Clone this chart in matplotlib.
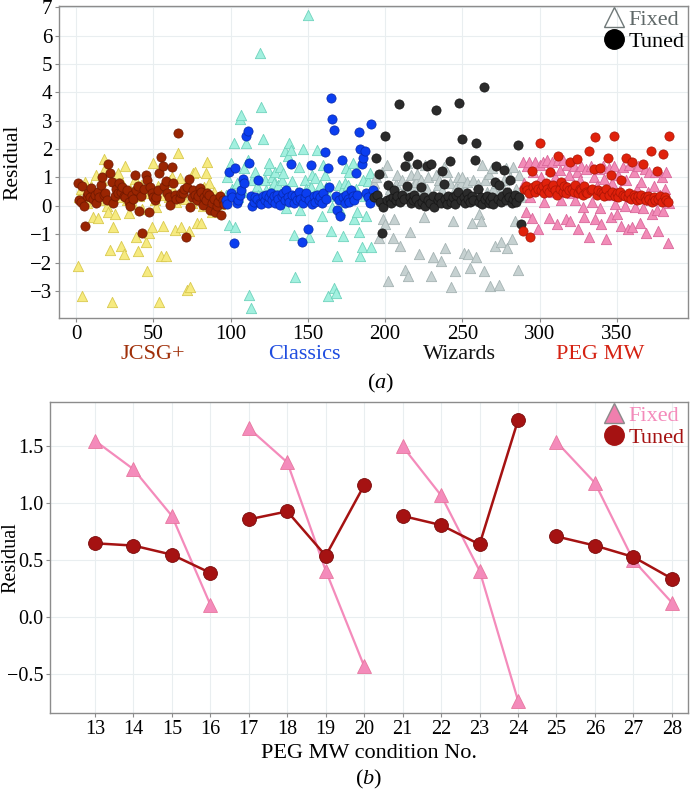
"""
Residuals of fixed vs tuned models per screen condition, plus PEG MW detail.
"""

import numpy as np
import matplotlib
matplotlib.use("Agg")
import matplotlib.pyplot as plt
from matplotlib.lines import Line2D

plt.rcParams["font.family"] = ["Liberation Serif", "DejaVu Serif"]
plt.rcParams["mathtext.fontset"] = "custom"
plt.rcParams["mathtext.rm"] = "Liberation Serif"
plt.rcParams["mathtext.it"] = "Liberation Serif:italic"

# ---- panel (a): residual per condition, four screens of 96 conditions ----
SCREENS = ["JCSG+", "Classics", "Wizards", "PEG MW"]
SCREEN_START = [1, 97, 193, 289]

JCSG_FIXED = [
    -2.13, 0.30, 0.60, -3.16, 0.20, 0.85, 0.10, 0.50, 0.25, 0.70, -0.40, 0.30,
    1.09, -0.43, 0.20, 0.60, 0.90, 1.64, 1.34, 0.00, -0.20, -1.57, -3.37, -0.73,
    -0.30, 0.50, 1.15, 0.30, -1.43, 0.80, -1.70, 1.41, 0.20, -0.24, 0.60, 0.10,
    0.07, 0.95, -1.08, -1.60, 0.35, 0.75, -0.10, 0.45, -1.29, -2.31, -0.95, 0.60,
    -0.73, 1.50, 0.20, -0.05, 0.70, -3.40, -1.78, -0.70, 0.40, -1.75, 0.85, 0.30,
    0.90, 1.00, 0.55, -0.85, 0.15, 1.86, 0.97, -0.73, 0.50, 0.25, 0.70, -2.96,
    -0.90, -2.86, 0.10, 1.15, 1.21, -0.60, 0.45, 0.20, -0.61, 0.00, 0.65, 1.15,
    1.53, 0.80, 0.35, -0.20, 0.50, 0.15, -0.10, 0.30, 0.05, 0.40, 0.20, 0.10,
]
JCSG_TUNED = [
    0.82, 0.21, 0.15, 0.70, 0.01, -0.70, 0.35, 0.45, 0.30, 0.62, 0.25, 0.40,
    0.10, 0.50, 0.30, 0.72, 1.03, 0.40, 0.45, 0.20, 1.48, 1.15, 0.85, 0.10,
    0.35, 0.60, 0.45, 0.82, 0.50, 0.65, 0.35, 0.30, 0.55, 0.15, 0.00, 0.40,
    0.25, 1.09, 0.55, 0.70, -0.18, 0.35, -0.94, 0.60, 1.09, 0.90, -0.20, 0.65,
    0.45, 0.30, 0.21, 0.30, 0.55, 1.15, 1.71, 1.41, 0.70, 0.89, 0.45, 0.30,
    0.04, 1.36, 0.80, 0.40, 0.25, 2.56, 0.27, 0.45, 0.45, 0.60, -1.10, 0.68,
    0.95, -0.05, 0.30, 0.55, 0.40, 0.20, 0.35, 0.62, 0.50, 0.04, 0.30, 0.20,
    0.45, 0.40, -0.14, 0.10, 0.25, -0.20, 0.00, 0.15, 0.33, -0.32, 0.20, 0.05,
]
CLASSICS_FIXED = [
    0.40, 1.00, -0.67, 1.50, 0.60, 2.20, -0.75, 0.80, 0.30, 3.05, 3.20, 0.50,
    1.35, 2.20, 1.60, -3.13, -3.60, 0.90, 0.20, 1.20, 0.70, 0.40, 5.40, 3.47,
    2.35, 0.90, 0.55, 1.25, 1.50, 0.60, 1.00, 0.80, 1.20, 0.40, 0.74, 1.38,
    0.90, 1.15, 1.95, -0.08, 1.76, 2.23, 1.97, 0.86, -1.03, -2.49, 0.50, 1.38,
    -0.16, 0.30, 2.00, 0.92, 0.60, 6.72, -1.09, 0.68, 1.08, 0.40, 0.97, 1.97,
    0.20, 0.74, -0.36, 1.45, 1.08, 0.68, -3.19, 0.35, -0.87, -0.04, -2.90, -3.08,
    -1.77, 0.74, -0.13, 0.55, -1.05, 0.80, 1.33, 0.74, 1.20, 0.30, 1.50, -0.47,
    0.60, -0.22, -0.93, -1.77, -1.44, 0.90, 0.35, -0.37, 0.86, 1.15, -1.44, 0.45,
]
CLASSICS_TUNED = [
    0.20, 0.05, 1.20, 0.45, 0.30, -1.31, 1.35, 0.10, 0.20, 0.40, 0.55, 0.93,
    0.79, 2.45, 2.62, 1.52, 0.35, -0.02, 0.15, 0.30, 0.25, 0.91, 0.10, 0.05,
    0.33, 0.20, 0.40, 0.10, 0.30, 0.45, 0.21, 0.35, 0.10, 0.40, 0.25, 0.04,
    0.33, 0.45, 0.20, 0.55, 0.30, 0.15, 1.47, 0.40, 0.10, 0.35, 0.20, 0.50,
    0.25, -1.29, 0.10, 0.30, 0.45, -0.82, 0.21, 1.43, 0.05, 0.33, 0.15, 0.40,
    0.20, 0.30, 0.10, 0.45, 1.90, 0.25, 1.33, 0.66, 3.79, 3.05, 2.68, 0.35,
    -0.13, 0.20, -0.37, 1.60, 0.30, 0.10, 0.40, 0.25, 0.15, 0.56, 0.33, 0.20,
    1.17, 0.40, 2.60, 2.02, 1.47, 1.70, 1.93, 0.45, 0.30, 0.10, 2.88, 0.55,
]
WIZARDS_FIXED = [
    0.80, 1.00, 0.50, -1.12, 0.30, 1.20, -0.48, -0.65, 1.43, -2.66, 0.60, 0.20,
    -1.12, -0.45, 0.78, 1.10, 0.40, -1.41, 0.90, 0.55, -2.25, 1.50, -2.46, -0.92,
    1.08, 0.70, 0.30, 0.84, 1.14, -1.71, 0.90, 0.50, -0.41, 1.45, 0.60, 1.00,
    0.20, -2.46, -1.79, 0.40, 1.08, 0.72, 0.90, -1.95, 0.55, 1.38, -1.48, 1.20,
    0.30, 0.80, -2.87, -0.53, -2.31, 0.67, 1.00, 0.45, 0.80, 1.02, -1.66, 0.60,
    0.84, -1.71, -2.20, -0.60, 0.90, 0.20, -1.79, 0.78, -0.29, -0.53, 1.43, -2.31,
    0.90, 0.50, 1.14, -2.83, 1.32, 0.60, -1.41, 0.80, 0.40, -2.80, -1.29, 0.70,
    0.90, 1.32, -1.48, 0.50, 1.00, -1.16, 1.38, -0.53, 0.60, -2.25, 1.08, 0.30,
]
WIZARDS_TUNED = [
    0.30, 1.70, 0.37, 1.13, 0.15, -0.94, -0.05, 2.46, 0.20, 0.72, 0.25, 0.10,
    0.30, 0.57, 0.20, 0.35, 3.59, 0.15, 0.40, 0.25, 1.39, 0.69, 1.74, 0.30,
    0.10, 0.20, 0.40, 0.25, 1.46, 0.05, 0.67, 0.15, 0.30, 0.00, 1.39, 0.20,
    0.10, 1.49, 0.35, -0.03, 3.36, 0.20, 0.30, 0.10, 1.22, 0.77, 0.25, 0.05,
    0.35, 1.58, 0.15, 0.30, 0.07, 0.40, 0.49, 3.64, 0.20, 2.34, 0.30, 0.10,
    0.45, 0.25, 0.12, 0.35, 0.20, 1.63, 2.22, 0.61, 0.15, 0.30, 0.05, 4.17,
    0.25, 0.35, 0.10, 0.20, 0.30, 0.07, 0.84, 1.41, 0.25, 0.72, 0.15, 0.35,
    1.28, 0.20, 0.49, 0.30, 0.90, 0.10, 0.25, 0.40, 0.15, 2.15, 0.30, -0.63,
]
PEG_FIXED = [
    1.56, 0.80, -0.20, 1.40, 1.56, 0.30, -0.43, 1.20, 1.56, 0.60, -0.82, 1.45,
    1.00, 1.56, 0.12, 0.70, 1.62, -0.43, 1.30, 1.56, 0.50, 1.00, -0.64, 1.60,
    1.25, 0.20, 1.62, 0.80, -0.47, 1.45, 1.10, -0.55, 0.45, 1.40, 0.19, 1.20,
    -0.81, 0.90, 1.40, -0.04, -0.40, 1.30, 0.60, -1.08, 1.40, 0.12, 1.00, -0.45,
    0.70, 1.30, -0.08, -0.64, 1.40, 0.95, -1.17, 0.40, 1.35, -0.40, 0.80, 1.40,
    0.07, -0.30, 1.10, 0.55, -0.70, 1.38, 0.01, 0.90, -0.80, 1.45, 0.30, -0.75,
    1.20, -0.04, 0.60, 1.40, -0.60, 0.85, -0.09, 1.30, -0.96, 0.50, 1.20, 0.20,
    -0.30, 0.70, 1.20, -0.14, -0.87, 0.40, 1.00, -0.19, 0.60, 1.20, -1.31, 0.10,
]
PEG_TUNED = [
    -0.87, 0.60, 0.70, 0.55, 0.45, -1.09, 1.22, 0.65, 0.50, 0.75, 0.60, 2.23,
    0.55, 0.70, 0.45, 0.80, 0.60, 0.50, 1.20, 0.65, 0.75, 0.55, 0.40, 1.74,
    0.60, 0.85, 0.50, 0.70, 0.45, 0.65, 0.55, 1.55, 0.60, 0.50, 0.75, 1.65,
    0.45, 0.60, 0.55, 0.40, 0.70, 0.50, 0.45, 1.95, 0.55, 0.60, 1.29, 2.41,
    0.40, 0.55, 1.35, 0.50, 0.45, 0.35, 0.60, 1.67, 0.40, 1.10, 0.50, 2.46,
    0.35, 0.45, 0.30, 0.50, 0.92, 0.40, 0.35, 1.70, 0.30, 0.45, 0.25, 1.55,
    0.40, 0.30, 0.20, 0.35, 0.25, 0.40, 1.46, 0.30, 0.20, 0.35, 0.25, 1.95,
    0.15, 0.30, 0.20, 1.22, 0.25, 0.35, 0.15, 1.82, 0.30, 0.20, 0.12, 2.46,
]

FIXED_A = [JCSG_FIXED, CLASSICS_FIXED, WIZARDS_FIXED, PEG_FIXED]
TUNED_A = [JCSG_TUNED, CLASSICS_TUNED, WIZARDS_TUNED, PEG_TUNED]

FIXED_FACE = ["#f6ea80", "#a2f0df", "#c6d1d1", "#f28cb8"]
FIXED_EDGE = ["#d9c94e", "#6fd3bd", "#a5b3b3", "#d9679a"]
TUNED_FACE = ["#9a2502", "#0b3ef0", "#2b2b2b", "#e0210b"]
TUNED_EDGE = ["#6e1800", "#0727a8", "#151515", "#a81405"]
LABEL_COLOURS = ["#a0300a", "#1f4de0", "#111111", "#d52212"]
LABEL_X = [50, 148, 248, 339]

# ---- panel (b): PEG MW conditions 13-28 ----
CONDITION = list(range(13, 29))
FIXED_B = [1.55, 1.30, 0.89, 0.11, 1.66, 1.36, 0.41, -0.43,
           1.50, 1.07, 0.41, -0.73, 1.54, 1.18, 0.50, 0.13]
TUNED_B = [0.65, 0.63, 0.55, 0.39, 0.86, 0.93, 0.54, 1.16,
           0.89, 0.81, 0.64, 1.73, 0.71, 0.63, 0.53, 0.34]

PINK = "#f48bbb"
DARK_RED = "#a51212"
GRID = "#e9eef0"
FRAME = "#8c8c8c"


def style_axes(ax, size):
    ax.grid(True, color=GRID, linewidth=0.8)
    ax.set_axisbelow(True)
    for spine in ax.spines.values():
        spine.set_color(FRAME)
        spine.set_linewidth(1.0)
    ax.tick_params(length=3, width=0.8, color=FRAME, labelsize=size, pad=2)


def draw_panel_a(ax):
    for k in range(4):
        x_fix = SCREEN_START[k] + np.arange(len(FIXED_A[k]))
        x_tun = SCREEN_START[k] + np.arange(len(TUNED_A[k]))
        ax.scatter(x_fix, FIXED_A[k], marker="^", s=55,
                   facecolor=FIXED_FACE[k], edgecolor=FIXED_EDGE[k],
                   linewidth=0.6, zorder=2)
        ax.scatter(x_tun, TUNED_A[k], marker="o", s=44,
                   facecolor=TUNED_FACE[k], edgecolor=TUNED_EDGE[k],
                   linewidth=0.5, zorder=3)
        ax.text(LABEL_X[k], -0.118, SCREENS[k], transform=ax.get_xaxis_transform(),
                ha="center", va="center", fontsize=16, color=LABEL_COLOURS[k])

    ax.set_xlim(-11, 396)
    ax.set_ylim(-3.95, 7.04)
    ax.set_xticks(range(0, 351, 50))
    ax.set_yticks(range(-3, 8))
    ax.set_ylabel("Residual", fontsize=15.5)
    ax.yaxis.set_label_coords(-0.058, 0.5)
    style_axes(ax, 15)

    handles = [
        Line2D([], [], linestyle="none", marker="^", markersize=14,
               markerfacecolor="none", markeredgecolor="#6f7878", markeredgewidth=1.0),
        Line2D([], [], linestyle="none", marker="o", markersize=14,
               markerfacecolor="black", markeredgecolor="black"),
    ]
    ax.legend(handles, ["Fixed", "Tuned"], loc="upper right", frameon=False,
              fontsize=16, handletextpad=0.0, handlelength=1.3,
              borderaxespad=0.05, borderpad=0.1, labelspacing=0.05,
              labelcolor=["#5f6868", "black"])
    ax.text(197, -0.21, "($\\mathit{a}$)", transform=ax.get_xaxis_transform(),
            ha="center", va="center", fontsize=16)


def draw_panel_b(ax):
    for g in range(0, len(CONDITION), 4):
        xs = CONDITION[g:g + 4]
        ax.plot(xs, FIXED_B[g:g + 4], color=PINK, linewidth=1.6, marker="^",
                markersize=10, markerfacecolor=PINK, markeredgecolor="#e7779f",
                markeredgewidth=0.6, zorder=2)
    for g in range(0, len(CONDITION), 4):
        xs = CONDITION[g:g + 4]
        ax.plot(xs, TUNED_B[g:g + 4], color=DARK_RED, linewidth=1.8, marker="o",
                markersize=10, markerfacecolor=DARK_RED, markeredgecolor="#7a0c0c",
                markeredgewidth=0.6, zorder=3)

    ax.set_xlim(11.83, 28.42)
    ax.set_ylim(-0.84, 1.89)
    ax.set_xticks(CONDITION)
    ax.set_yticks([-0.5, 0.0, 0.5, 1.0, 1.5])
    ax.set_ylabel("Residual", fontsize=14.5)
    ax.yaxis.set_label_coords(-0.047, 0.5)
    ax.set_xlabel("PEG MW condition No.", fontsize=16)
    ax.xaxis.set_label_coords(0.5, -0.10)
    style_axes(ax, 14.5)

    handles = [
        Line2D([], [], linestyle="none", marker="^", markersize=14,
               markerfacecolor="#f07fae", markeredgecolor="#8a8a8a", markeredgewidth=1.0),
        Line2D([], [], linestyle="none", marker="o", markersize=14,
               markerfacecolor=DARK_RED, markeredgecolor=DARK_RED),
    ]
    ax.legend(handles, ["Fixed", "Tuned"], loc="upper right", frameon=False,
              fontsize=16, handletextpad=0.0, handlelength=1.3,
              borderaxespad=0.05, borderpad=0.1, labelspacing=0.05,
              labelcolor=[PINK, DARK_RED])
    ax.text(0.5, -0.215, "($\\mathit{b}$)", transform=ax.transAxes,
            ha="center", va="center", fontsize=16)


def create_figure() -> None:
    fig = plt.figure(figsize=(6.92, 7.92), dpi=100)
    ax_a = fig.add_axes([0.0853, 0.5985, 0.9087, 0.3939])
    ax_b = fig.add_axes([0.0723, 0.0997, 0.9219, 0.3927])

    draw_panel_a(ax_a)
    draw_panel_b(ax_b)

    fig.savefig("out.png", dpi=100)


if __name__ == "__main__":
    create_figure()
